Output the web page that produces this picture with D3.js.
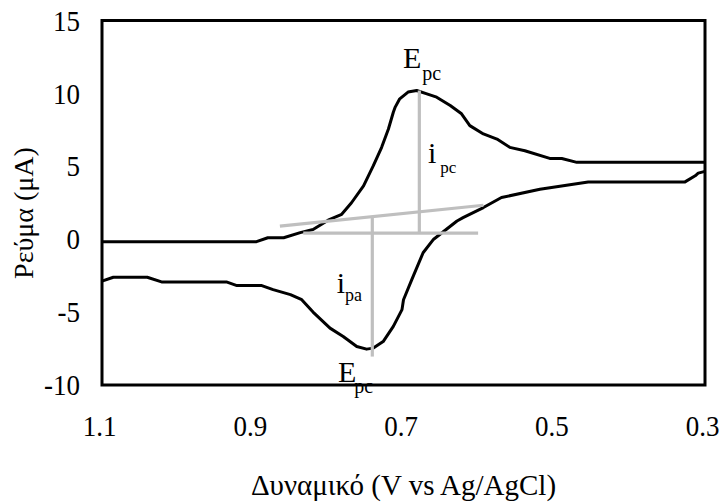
<!DOCTYPE html>
<html>
<head>
<meta charset="utf-8">
<script src="https://cdn.jsdelivr.net/npm/d3@7"></script>
<style>
  html, body { margin: 0; padding: 0; background: #fff; }
  svg { display: block; font-family: "Liberation Serif", "Times New Roman", serif; }
</style>
</head>
<body>
<svg id="chart" width="720" height="503"></svg>
<script>
// ---- data (potential V, current µA) ----
const forwardV = [1.1, 0.895, 0.88, 0.859, 0.837, 0.82, 0.80, 0.782, 0.769, 0.753, 0.74, 0.729, 0.72, 0.7135, 0.711, 0.705, 0.694, 0.6825, 0.669, 0.656, 0.638, 0.623, 0.612, 0.594, 0.576, 0.559, 0.539, 0.506, 0.49, 0.47, 0.30];
const forwardI = [-0.17, -0.17, 0.1, 0.1, 0.45, 0.67, 1.3, 1.71, 2.5, 3.66, 5.04, 6.3, 7.56, 8.71, 9.06, 9.63, 10.09, 10.2, 9.97, 9.74, 9.17, 8.6, 7.79, 7.22, 6.87, 6.3, 6.07, 5.54, 5.54, 5.27, 5.27];

const reverseV = [0.30, 0.309, 0.313, 0.3265, 0.455, 0.519, 0.57, 0.594, 0.621, 0.629, 0.643, 0.66, 0.674, 0.689, 0.700, 0.702, 0.7135, 0.727, 0.740, 0.749, 0.762, 0.78, 0.7975, 0.82, 0.835, 0.85, 0.873, 0.888, 0.921, 0.935, 1.021, 1.04, 1.085, 1.1];
const reverseI = [4.65, 4.53, 4.35, 3.93, 3.93, 3.43, 2.86, 2.17, 1.48, 1.25, 0.68, 0.0, -0.93, -2.77, -4.15, -4.83, -5.98, -7.02, -7.47, -7.54, -7.36, -6.67, -6.1, -5.0, -4.15, -3.8, -3.46, -3.18, -3.18, -2.93, -2.93, -2.61, -2.61, -2.88];

// construction lines (grey)
const slopeBaseV = [0.864, 0.594], slopeBaseI = [0.9, 2.33];
const flatBaseV = [0.833, 0.601], flatBaseI = [0.42, 0.42];
const ipcV = [0.679, 0.679], ipcI = [10.2, 0.42];
const ipaV = [0.7414, 0.7414], ipaI = [1.5, -8.05];

const xTicks = [1.1, 0.9, 0.7, 0.5, 0.3];
const yTicks = [15, 10, 5, 0, -5, -10];

const xTitle = "Δυναμικό (V vs Ag/AgCl)";
const yTitle = "Ρεύμα (μΑ)";

// ---- layout ----
const svg = d3.select("#chart");
const L = 102, R = 705, T = 20.5, B = 385;
const x = d3.scaleLinear().domain([1.1, 0.3]).range([L, R]);
const y = d3.scaleLinear().domain([-10, 15]).range([B, T]);

const zip = (a, b) => a.map((v, i) => [v, b[i]]);
const line = d3.line().x(d => x(d[0])).y(d => y(d[1]));

const SX = 0.9; // slightly condensed text as in the reference

// axes (labels only)
const xAxis = d3.axisBottom(x).tickValues(xTicks).tickFormat(d3.format(".1f")).tickSize(0).tickPadding(30);
const yAxis = d3.axisLeft(y).tickValues(yTicks).tickFormat(d => String(d)).tickSize(0).tickPadding(22);

const gx = svg.append("g").attr("transform", `translate(0,${B})`).call(xAxis);
const gy = svg.append("g").attr("transform", `translate(${L},0)`).call(yAxis);
[gx, gy].forEach(g => {
  g.select(".domain").remove();
  g.selectAll("text").attr("font-size", 30).attr("fill", "#000")
    .attr("font-family", "Liberation Serif, Times New Roman, serif");
});
gx.selectAll("text").attr("x", -3 / SX).attr("transform", `scale(${SX},1)`);
gy.selectAll("text").attr("x", -22 / SX).attr("transform", `scale(${SX},1)`);

// curves
svg.append("path").datum(zip(forwardV, forwardI)).attr("d", line)
  .attr("fill", "none").attr("stroke", "#000").attr("stroke-width", 3).attr("stroke-linejoin", "round");
svg.append("path").datum(zip(reverseV, reverseI)).attr("d", line)
  .attr("fill", "none").attr("stroke", "#000").attr("stroke-width", 3).attr("stroke-linejoin", "round");

// grey construction lines
[[slopeBaseV, slopeBaseI], [flatBaseV, flatBaseI], [ipcV, ipcI], [ipaV, ipaI]].forEach(([vs, is]) => {
  svg.append("path").datum(zip(vs, is)).attr("d", line)
    .attr("fill", "none").attr("stroke", "#bfbfbf").attr("stroke-width", 3.2);
});

// annotations
function label(v, i, main, sub, mainSize, subSize, subDy, subDx) {
  const t = svg.append("text").attr("x", x(v)).attr("y", y(i)).attr("fill", "#000");
  t.append("tspan").attr("font-size", mainSize).text(main);
  t.append("tspan").attr("font-size", subSize).attr("dy", subDy).attr("dx", subDx).text(sub);
}
label(0.7007, 11.72, "E", "pc", 30, 20, 12, 1);
label(0.6675, 5.23, "i", "pc", 30, 17, 10, 4);
label(0.7887, -3.69, "i", "pa", 30, 18, 8, 0);
label(0.787, -9.79, "E", "pc", 30, 20, 11, -2);

// frame (drawn on top)
svg.append("rect").attr("x", L).attr("y", T).attr("width", R - L).attr("height", B - T)
  .attr("fill", "none").attr("stroke", "#000").attr("stroke-width", 3);

// titles
svg.append("text").attr("x", (L + R) / 2).attr("y", 495).attr("text-anchor", "middle")
  .attr("font-size", 29).attr("fill", "#000").text(xTitle);
svg.append("text").attr("transform", `translate(33,213) rotate(-90)`).attr("text-anchor", "middle")
  .attr("font-size", 28).attr("fill", "#000").text(yTitle);
</script>
</body>
</html>
